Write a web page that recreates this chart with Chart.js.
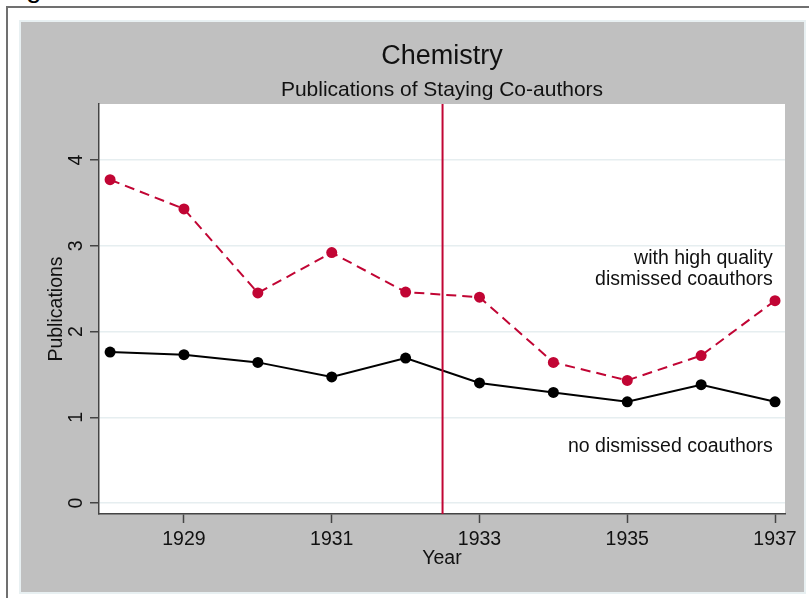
<!DOCTYPE html>
<html>
<head>
<meta charset="utf-8">
<script src="https://cdn.jsdelivr.net/npm/chart.js@4"></script>
<style>
  html, body { margin: 0; padding: 0; background: #fff; }
  body { width: 809px; height: 598px; position: relative; overflow: hidden;
         font-family: "Liberation Sans", Arial, sans-serif; }
  #frameTop { position: absolute; left: 6px; top: 6px; right: 0; height: 2px; background: #707070; }
  #frameLeft { position: absolute; left: 6px; top: 6px; width: 2px; bottom: 0; background: #707070; }
  #cut { position: absolute; left: 26px; top: -26px; font-size: 28px; line-height: 28px; color: #000; }
  #box { position: absolute; left: 19px; top: 20px; width: 783px; height: 570px;
         border: 2px solid #e8f0f2; background: #c0c0c0; }
  #box canvas { display: block; }
</style>
</head>
<body>
<div id="frameTop"></div>
<div id="frameLeft"></div>
<span id="cut">g</span>
<div id="box"><canvas id="pubChart" width="783" height="570"></canvas></div>

<script>
// values
const years = [1928, 1929, 1930, 1931, 1932, 1933, 1934, 1935, 1936, 1937];
const highQuality = [3.77, 3.43, 2.45, 2.92, 2.46, 2.40, 1.64, 1.43, 1.72, 2.36];
const noDismissed = [1.76, 1.73, 1.64, 1.47, 1.69, 1.40, 1.29, 1.18, 1.38, 1.18];
const xTicks = [1929, 1931, 1933, 1935, 1937];
const yTicks = [0, 1, 2, 3, 4];
const cutoffYear = 1932.5;

const seriesNotes = [
  { text: 'with high quality', x: 1936.97, y: 2.85 },
  { text: 'dismissed coauthors', x: 1936.97, y: 2.61 },
  { text: 'no dismissed coauthors', x: 1936.97, y: 0.66 }
];

const RED = '#c10534';
const FONT = '"Liberation Sans", Arial, sans-serif';

// white plot region, cutoff line and the text next to the lines
const plotDecor = {
  id: 'plotDecor',
  beforeDraw(chart) {
    const { ctx, chartArea: a } = chart;
    ctx.save();
    ctx.fillStyle = '#fff';
    ctx.fillRect(a.left, a.top, a.right - a.left, a.bottom - a.top);
    ctx.restore();
  },
  afterDatasetsDraw(chart) {
    const { ctx, chartArea: a, scales } = chart;
    const x = scales.x.getPixelForValue(cutoffYear);
    ctx.save();
    ctx.strokeStyle = RED;
    ctx.lineWidth = 2;
    ctx.beginPath();
    ctx.moveTo(x, a.top);
    ctx.lineTo(x, a.bottom);
    ctx.stroke();

    ctx.fillStyle = '#111';
    ctx.font = '19.5px ' + FONT;
    ctx.textAlign = 'right';
    ctx.textBaseline = 'middle';
    seriesNotes.forEach(n => {
      ctx.fillText(n.text, scales.x.getPixelForValue(n.x), scales.y.getPixelForValue(n.y));
    });
    ctx.restore();
  }
};

const ctx = document.getElementById('pubChart').getContext('2d');
new Chart(ctx, {
  type: 'line',
  data: {
    datasets: [
      {
        label: 'with high quality dismissed coauthors',
        data: years.map((y, i) => ({ x: y, y: highQuality[i] })),
        borderColor: RED,
        backgroundColor: RED,
        borderWidth: 2,
        borderDash: [10, 6],
        pointRadius: 5.5,
        pointBorderWidth: 0,
        tension: 0
      },
      {
        label: 'no dismissed coauthors',
        data: years.map((y, i) => ({ x: y, y: noDismissed[i] })),
        borderColor: '#000',
        backgroundColor: '#000',
        borderWidth: 2,
        pointRadius: 5.5,
        pointBorderWidth: 0,
        tension: 0
      }
    ]
  },
  options: {
    responsive: false,
    animation: false,
    layout: { padding: { left: 0, top: 0, right: 19, bottom: 0 } },
    plugins: {
      legend: { display: false },
      tooltip: { enabled: false },
      title: {
        display: true,
        text: 'Chemistry',
        fullSize: false,
        color: '#111',
        font: { family: FONT, size: 27, weight: 'normal', lineHeight: 1.2 },
        padding: { top: 18.7, bottom: 0 }
      },
      subtitle: {
        display: true,
        text: 'Publications of Staying Co-authors',
        fullSize: false,
        color: '#111',
        font: { family: FONT, size: 21, weight: 'normal', lineHeight: 1.2 },
        padding: { top: 4.8, bottom: 0.9 }
      }
    },
    scales: {
      x: {
        type: 'linear',
        min: 1927.85,
        max: 1937.135,
        afterBuildTicks: s => { s.ticks = xTicks.map(v => ({ value: v })); },
        afterFit: s => { s.height = 78; },
        ticks: {
          color: '#111',
          font: { family: FONT, size: 19.5 },
          padding: 5,
          maxRotation: 0,
          callback: v => String(v)
        },
        grid: { drawOnChartArea: false, tickLength: 9, tickColor: '#444', tickWidth: 1.5 },
        border: { color: '#444', width: 1.5 },
        title: {
          display: true,
          text: 'Year',
          color: '#111',
          font: { family: FONT, size: 19.5, lineHeight: 1.2 },
          padding: { top: 0, bottom: 21.5 }
        }
      },
      y: {
        type: 'linear',
        min: -0.128,
        max: 4.653,
        afterBuildTicks: s => { s.ticks = yTicks.map(v => ({ value: v })); },
        afterFit: s => { s.width = 78; },
        ticks: {
          color: '#111',
          font: { family: FONT, size: 19.5 },
          minRotation: 90,
          maxRotation: 90,
          crossAlign: 'center',
          padding: 7.8,
          callback: v => String(v)
        },
        grid: { color: '#e6eef0', lineWidth: 1.5, tickLength: 9, tickColor: '#444', tickWidth: 1.5 },
        border: { color: '#444', width: 1.5 },
        title: {
          display: true,
          text: 'Publications',
          color: '#111',
          font: { family: FONT, size: 19.5, lineHeight: 1.2 },
          padding: { top: 23.8, bottom: 0 }
        }
      }
    }
  },
  plugins: [plotDecor]
});
</script>
</body>
</html>
